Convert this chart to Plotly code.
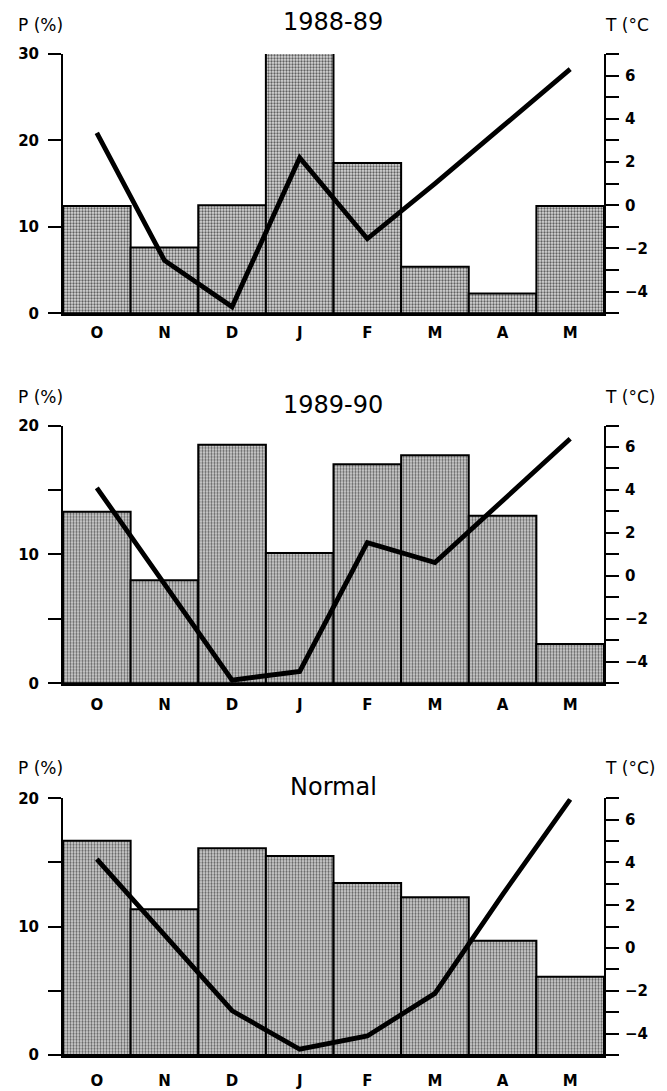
import plotly.graph_objects as go

months = ["O", "N", "D", "J", "F", "M", "A", "M"]
titles = ["1988-89", "1989-90", "Normal"]
t_labels = ["T (°C", "T (°C)", "T (°C)"]

precip_8889 = [12.4, 7.6, 12.5, 30.8, 17.4, 5.4, 2.3, 12.4]
temp_8889 = [3.35, -2.55, -4.7, 2.2, -1.55, 1.0, 3.65, 6.3]

precip_8990 = [13.3, 8.0, 18.5, 10.1, 17.0, 17.7, 13.0, 3.05]
temp_8990 = [4.1, -0.4, -4.85, -4.45, 1.55, 0.62, 3.5, 6.38]

precip_norm = [16.7, 11.35, 16.1, 15.5, 13.4, 12.3, 8.9, 6.1]
temp_norm = [4.16, 0.64, -2.93, -4.73, -4.11, -2.12, 2.5, 6.95]

p_max = [30, 20, 20]
p_minor = [[], [5, 15], [5, 15]]

panels = [
    (precip_8889, temp_8889),
    (precip_8990, temp_8990),
    (precip_norm, temp_norm),
]

# The page body has an 8px margin, so the figure is drawn 8px in from the
# window corner; work in window pixels and convert.
OFF = 8
W, H = 667 - OFF, 1091 - OFF


def px(xw):
    return (xw - OFF) / W


def py(yw):
    return 1 - (yw - OFF) / H


X0, X1 = 63, 604
# (baseline px, top px, x-label standoff)
geom = [(313.3, 54.0, 4), (683.3, 425.5, 6), (1055.0, 798.3, 10)]

FONT = "DejaVu Sans"
xs = list(range(len(months)))

fig = go.Figure()
layout = dict(
    width=W, height=H,
    margin=dict(l=0, r=0, t=0, b=0, autoexpand=False),
    paper_bgcolor="white", plot_bgcolor="rgba(0,0,0,0)",
    showlegend=False,
    font=dict(family=FONT, color="black"),
    annotations=[],
)

for i, ((prec, temp), (base, top, xstand)) in enumerate(zip(panels, geom)):
    n = i + 1
    xa = "x" if n == 1 else f"x{n}"
    ya = f"y{2*n-1}" if n > 1 else "y"
    ya2 = f"y{2*n}"
    xkey = "xaxis" if n == 1 else f"xaxis{n}"
    ykey = "yaxis" if n == 1 else f"yaxis{2*n-1}"
    y2key = f"yaxis{2*n}"
    dom = [py(base), py(top)]

    fig.add_trace(go.Bar(
        x=xs, y=prec, width=1.0, xaxis=xa, yaxis=ya,
        marker=dict(
            color="#d8d8d8",
            line=dict(color="black", width=2),
            pattern=dict(shape=".", size=3, solidity=0.45,
                         fgcolor="#606060", bgcolor="#d8d8d8", fillmode="replace"),
        ),
    ))
    fig.add_trace(go.Scatter(
        x=xs, y=temp, mode="lines", xaxis=xa, yaxis=ya2,
        line=dict(color="black", width=4.8),
    ))

    layout[xkey] = dict(
        domain=[px(X0), px(X1)], range=[-0.5, 7.5], anchor=ya,
        tickmode="array", tickvals=xs, ticktext=months,
        ticks="", showgrid=False, zeroline=False,
        showline=True, linecolor="black", linewidth=2.5,
        tickfont=dict(family=FONT, size=15, color="black", weight="bold"),
        ticklabelstandoff=xstand, fixedrange=True, automargin=False,
    )
    pm = p_max[i]
    layout[ykey] = dict(
        domain=dom, range=[0, pm], anchor=xa,
        tickmode="array", tickvals=list(range(0, pm + 1, 10)),
        ticks="outside", ticklen=13, tickwidth=2, tickcolor="black",
        showline=True, linecolor="black", linewidth=2,
        showgrid=False, zeroline=False, automargin=False,
        tickfont=dict(family=FONT, size=15, color="black", weight="bold"),
        ticklabelstandoff=6,
        minor=dict(tickmode="array", tickvals=p_minor[i], ticks="outside",
                   ticklen=13, tickwidth=2, tickcolor="black", showgrid=False),
    )
    layout[y2key] = dict(
        overlaying=ya, side="right", anchor=xa,
        range=[-5, 7], automargin=False,
        tickmode="array", tickvals=[-4, -2, 0, 2, 4, 6],
        ticks="outside", ticklen=13, tickwidth=2, tickcolor="black",
        showline=True, linecolor="black", linewidth=2,
        showgrid=False, zeroline=False,
        tickfont=dict(family=FONT, size=15, color="black", weight="bold"),
        ticklabelstandoff=3,
        minor=dict(tickmode="array", tickvals=[-5, -3, -1, 1, 3, 5, 7], ticks="outside",
                   ticklen=13, tickwidth=2, tickcolor="black", showgrid=False),
    )

# titles and axis labels (window pixel positions)
title_y = [22, 405, 787]
lab_y = [25, 397, 768]
for i in range(3):
    layout["annotations"].append(dict(
        text=titles[i], x=px(333), y=py(title_y[i]), xref="paper", yref="paper",
        xanchor="center", yanchor="middle", showarrow=False,
        font=dict(family=FONT, size=24, color="black"),
    ))
    layout["annotations"].append(dict(
        text="P (%)", x=px(40), y=py(lab_y[i]), xref="paper", yref="paper",
        xanchor="center", yanchor="middle", showarrow=False,
        font=dict(family=FONT, size=17, color="black"),
    ))
    layout["annotations"].append(dict(
        text=t_labels[i], x=px(603), y=py(lab_y[i]), xref="paper", yref="paper",
        xanchor="left", yanchor="middle", showarrow=False,
        font=dict(family=FONT, size=17, color="black"),
    ))

fig.update_layout(**layout)
fig.write_html("out.html")
